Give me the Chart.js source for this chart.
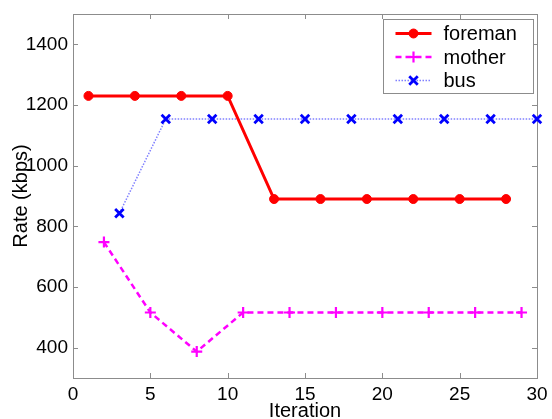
<!DOCTYPE html>
<html>
<head>
<meta charset="utf-8">
<script src="https://cdn.jsdelivr.net/npm/chart.js@4.4.1/dist/chart.umd.min.js"></script>
<style>
  html, body { margin: 0; padding: 0; background: #fff; }
  #wrap { width: 552px; height: 419px; }
</style>
</head>
<body>
<div id="wrap"><canvas id="rateChart"></canvas></div>
<script>
// --- data ---
const foremanIter = [1, 4, 7, 10, 13, 16, 19, 22, 25, 28];
const foremanRate = [1230, 1230, 1230, 1230, 890, 890, 890, 890, 890, 890];
const motherIter = [2, 5, 8, 11, 14, 17, 20, 23, 26, 29];
const motherRate = [748, 516, 387, 516, 516, 516, 516, 516, 516, 516];
const busIter = [3, 6, 9, 12, 15, 18, 21, 24, 27, 30];
const busRate = [843, 1154, 1154, 1154, 1154, 1154, 1154, 1154, 1154, 1154];
const xTicks = [0, 5, 10, 15, 20, 25, 30];
const yTicks = [400, 600, 800, 1000, 1200, 1400];

const FONT = 'Arial, "Liberation Sans", sans-serif';
const AXIS_GRAY = '#8c8c8c';

function toPoints(xs, ys) {
    return xs.map((x, i) => ({ x: x, y: ys[i] }));
}

// frame around plot + inward ticks on all four sides (matlab style)
const framePlugin = {
    id: 'frame',
    beforeDatasetsDraw(chart) {
        const { ctx, chartArea: a, scales } = chart;
        const len = 5;
        ctx.save();
        ctx.strokeStyle = AXIS_GRAY;
        ctx.lineWidth = 1;
        ctx.strokeRect(a.left + 0.5, a.top + 0.5, a.right - a.left, a.bottom - a.top);
        ctx.beginPath();
        scales.x.ticks.forEach(t => {
            const px = Math.round(scales.x.getPixelForValue(t.value)) + 0.5;
            ctx.moveTo(px, a.bottom); ctx.lineTo(px, a.bottom - len);
            ctx.moveTo(px, a.top); ctx.lineTo(px, a.top + len);
        });
        scales.y.ticks.forEach(t => {
            const py = Math.round(scales.y.getPixelForValue(t.value)) + 0.5;
            ctx.moveTo(a.left, py); ctx.lineTo(a.left + len, py);
            ctx.moveTo(a.right, py); ctx.lineTo(a.right - len, py);
        });
        ctx.stroke();
        ctx.restore();
    }
};

// legend box in the top right, line + marker samples
const legendPlugin = {
    id: 'boxLegend',
    afterDatasetsDraw(chart) {
        const { ctx } = chart;
        const box = { x: 383.5, y: 19.5, w: 150, h: 74 };
        ctx.save();
        ctx.fillStyle = '#fff';
        ctx.fillRect(box.x, box.y, box.w, box.h);
        ctx.strokeStyle = AXIS_GRAY;
        ctx.lineWidth = 1;
        ctx.strokeRect(box.x, box.y, box.w, box.h);
        ctx.font = '20px ' + FONT;
        ctx.textBaseline = 'middle';
        chart.data.datasets.forEach((ds, i) => {
            const y = box.y + 14 + i * 23.5;
            ctx.strokeStyle = ds.borderColor;
            ctx.lineWidth = ds.borderWidth;
            ctx.setLineDash(ds.borderDash || []);
            ctx.beginPath();
            ctx.moveTo(box.x + 12, y);
            ctx.lineTo(box.x + 48, y);
            ctx.stroke();
            ctx.setLineDash([]);
            // marker sample
            ctx.fillStyle = ds.pointBackgroundColor || ds.pointBorderColor;
            ctx.strokeStyle = ds.pointBorderColor;
            ctx.lineWidth = ds.pointBorderWidth;
            Chart.helpers.drawPoint(ctx, {
                pointStyle: ds.pointStyle,
                radius: ds.pointRadius,
                borderWidth: ds.pointBorderWidth
            }, box.x + 30, y);
            ctx.fillStyle = '#000';
            ctx.fillText(ds.label, box.x + 60, y + 1);
        });
        ctx.restore();
    }
};

const ctx = document.getElementById('rateChart').getContext('2d');
const rateChart = new Chart(ctx, {
    type: 'line',
    data: {
        datasets: [
            {
                label: 'foreman',
                data: toPoints(foremanIter, foremanRate),
                borderColor: '#ff0000',
                backgroundColor: '#ff0000',
                borderWidth: 3,
                pointStyle: 'circle',
                pointRadius: 4.5,
                pointBorderWidth: 1,
                pointBackgroundColor: '#ff0000',
                pointBorderColor: '#ff0000',
                tension: 0
            },
            {
                label: 'mother',
                data: toPoints(motherIter, motherRate),
                borderColor: '#ff00ff',
                backgroundColor: '#ff00ff',
                borderWidth: 2.5,
                borderDash: [6, 4],
                pointStyle: 'cross',
                pointRadius: 5.5,
                pointBorderWidth: 2.2,
                pointBorderColor: '#ff00ff',
                tension: 0
            },
            {
                label: 'bus',
                data: toPoints(busIter, busRate),
                borderColor: 'rgba(60,60,255,0.65)',
                backgroundColor: '#0000ff',
                borderWidth: 1.5,
                borderDash: [1.5, 1.5],
                pointStyle: 'crossRot',
                pointRadius: 6,
                pointBorderWidth: 2.8,
                pointBorderColor: '#0000ff',
                tension: 0
            }
        ]
    },
    options: {
        responsive: true,
        maintainAspectRatio: false,
        animation: false,
        clip: false,
        layout: { padding: { top: 14, right: 15, left: 0, bottom: 0 } },
        plugins: {
            legend: { display: false },
            tooltip: { enabled: false }
        },
        scales: {
            x: {
                type: 'linear',
                min: 0,
                max: 30,
                afterBuildTicks: s => { s.ticks = xTicks.map(v => ({ value: v })); },
                afterFit: s => { s.height = 41; },
                grid: { display: false },
                border: { display: false },
                ticks: {
                    color: '#000',
                    font: { family: FONT, size: 19 },
                    padding: -3,
                    callback: v => String(v)
                },
                title: {
                    display: true,
                    text: 'Iteration',
                    color: '#000',
                    font: { family: FONT, size: 20 },
                    padding: { top: 0, bottom: -4 }
                }
            },
            y: {
                type: 'linear',
                min: 300,
                max: 1500,
                afterBuildTicks: s => { s.ticks = yTicks.map(v => ({ value: v })); },
                afterFit: s => { s.width = 73; },
                grid: { display: false },
                border: { display: false },
                ticks: {
                    color: '#000',
                    font: { family: FONT, size: 19 },
                    padding: -3,
                    callback: v => String(v)
                },
                title: {
                    display: true,
                    text: 'Rate (kbps)',
                    color: '#000',
                    font: { family: FONT, size: 20 },
                    padding: { top: 9, bottom: 0 }
                }
            }
        }
    },
    plugins: [framePlugin, legendPlugin]
});
</script>
</body>
</html>
